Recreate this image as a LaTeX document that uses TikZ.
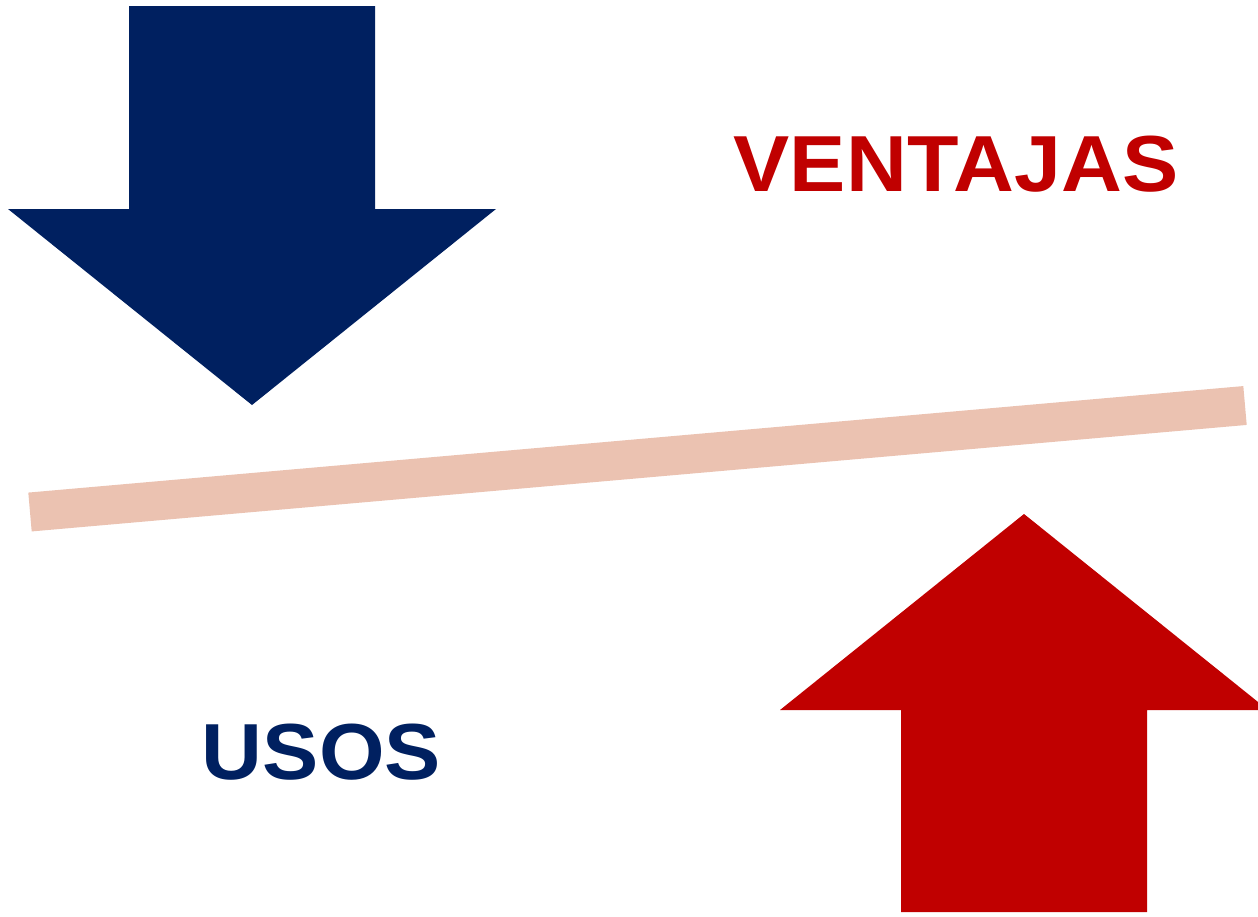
\documentclass[tikz,border=0pt]{standalone}
\usepackage{fontspec}
\setmainfont{Liberation Sans}
\definecolor{navy}{RGB}{0,32,96}
\definecolor{darkred}{RGB}{192,0,0}
\definecolor{beige}{RGB}{235,194,177}
\begin{document}
\begin{tikzpicture}[x=1pt,y=-1pt,
  lbl/.style={anchor=base west,inner sep=0pt,font=\fontsize{79.5}{82}\selectfont\bfseries\addfontfeature{FakeStretch=1.06,LetterSpace=0.5}}]
\useasboundingbox (0,0) rectangle (1258,916);
\begin{scope}
\clip (0,0) rectangle (1258,916);
% blue arrow down
\fill[navy] (129,6) -- (375,6) -- (375,209) -- (496,209) -- (252,405) -- (8,209) -- (129,209) -- cycle;
% red arrow up
\fill[darkred] (901,912) -- (1147,912) -- (1147,710) -- (1268,710) -- (1024,514) -- (780,710) -- (901,710) -- cycle;
% beam
\coordinate (bl) at (30,512);
\coordinate (br) at (1245,405.5);
\draw[beige,line width=39pt] (bl) -- (br);
\end{scope}
\node[lbl,text=darkred] (ventajas) at (733,191) {VENTAJAS};
\node[lbl,text=navy] (usos) at (201,779) {USOS};
\end{tikzpicture}
\end{document}
